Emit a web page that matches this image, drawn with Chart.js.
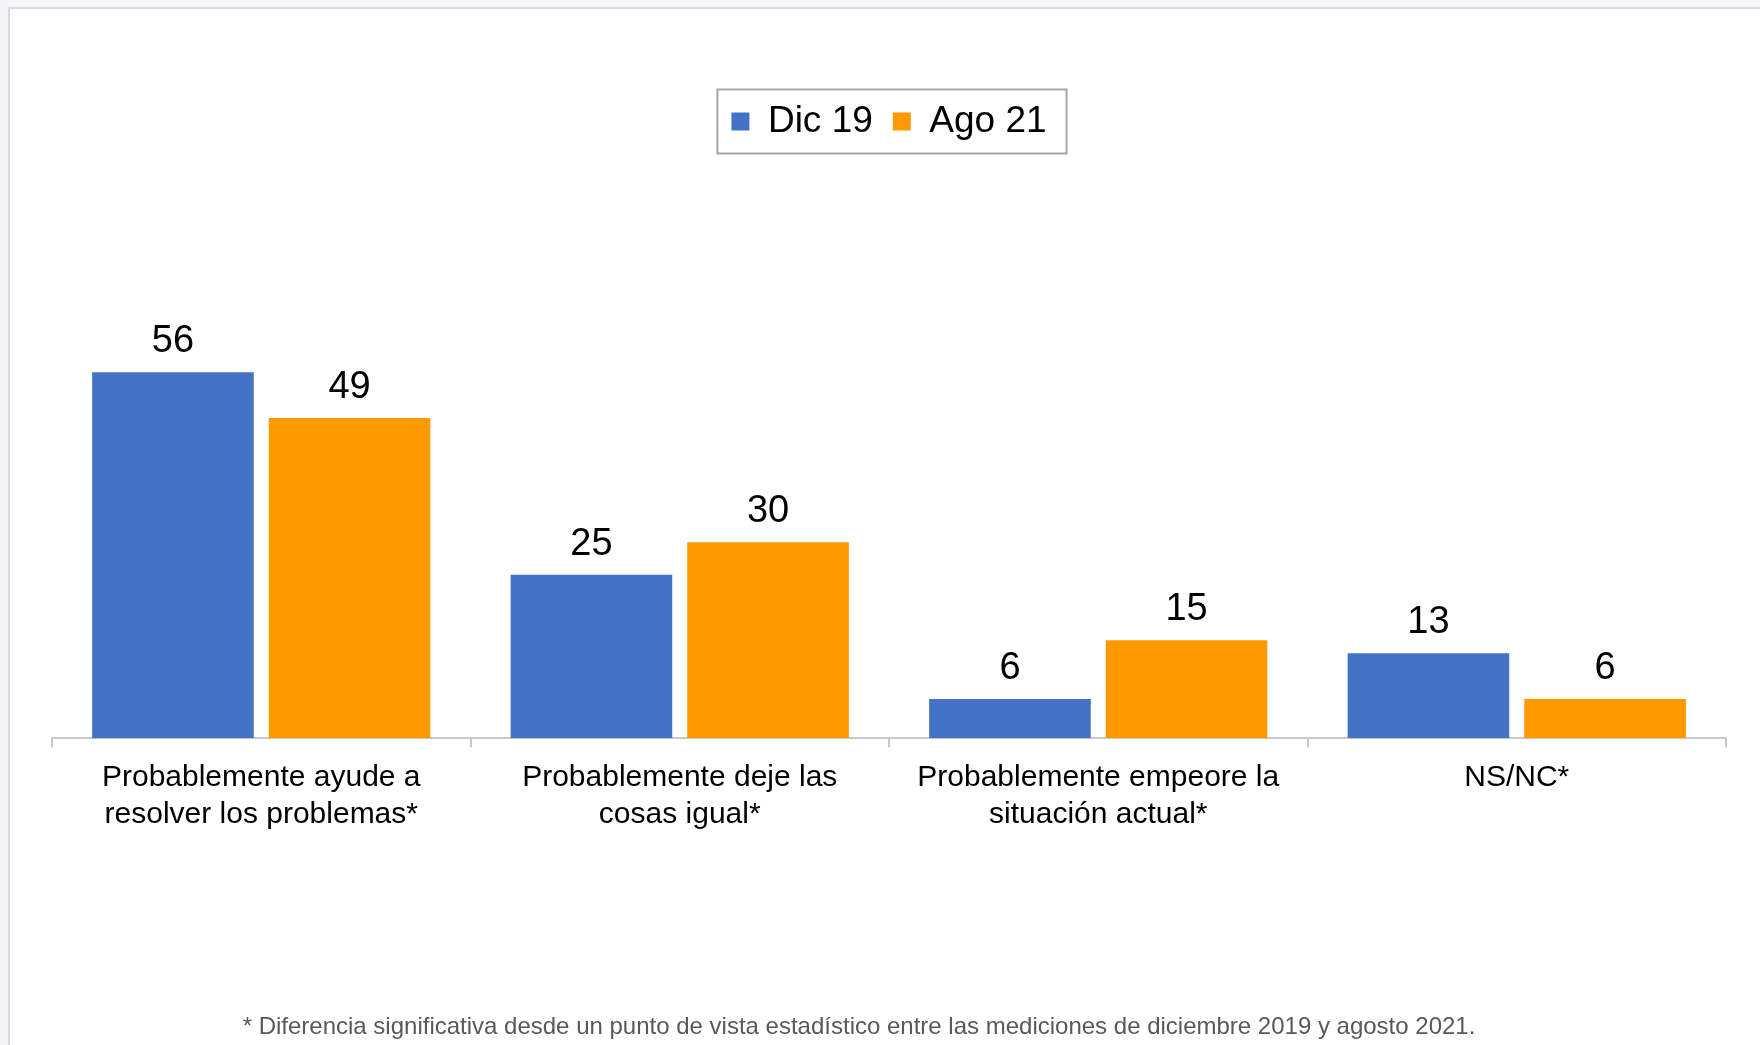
<!DOCTYPE html>
<html>
<head>
<meta charset="utf-8">
<script src="https://cdn.jsdelivr.net/npm/chart.js@4"></script>
<style>
  html, body { margin: 0; padding: 0; }
  body { width: 1760px; height: 1045px; background: #f4f5f9; position: relative; overflow: hidden; }
  .panel { position: absolute; left: 8px; top: 7px; width: 1780px; height: 1070px; background: #fff; border: 2px solid #dadada; }
  #grafico { position: absolute; left: 0; top: 0; }
</style>
</head>
<body>
<div class="panel"></div>
<canvas id="grafico" width="1760" height="1045"></canvas>
<script>
// datos
const categorias = [
  ['Probablemente ayude a', 'resolver los problemas*'],
  ['Probablemente deje las', 'cosas igual*'],
  ['Probablemente empeore la', 'situación actual*'],
  ['NS/NC*']
];
const dic19 = [56, 25, 6, 13];
const ago21 = [49, 30, 15, 6];
const nota = '* Diferencia significativa desde un punto de vista estadístico entre las mediciones de diciembre 2019 y agosto 2021.';

const FUENTE = '"Liberation Sans", Arial, sans-serif';

// valores encima de las barras
const etiquetasPlugin = {
  id: 'etiquetas',
  afterDatasetsDraw(chart) {
    const ctx = chart.ctx;
    ctx.save();
    ctx.font = '38px ' + FUENTE;
    ctx.fillStyle = '#000';
    ctx.textAlign = 'center';
    ctx.textBaseline = 'alphabetic';
    chart.data.datasets.forEach((ds, i) => {
      chart.getDatasetMeta(i).data.forEach((bar, j) => {
        ctx.fillText(ds.data[j], bar.x, bar.y - 20);
      });
    });
    ctx.restore();
  }
};

// recuadro de la leyenda + nota al pie
const extrasPlugin = {
  id: 'extras',
  afterDraw(chart) {
    const ctx = chart.ctx;
    const cajas = chart.legend.legendHitBoxes;
    ctx.save();
    if (cajas && cajas.length) {
      const primero = cajas[0], ultimo = cajas[cajas.length - 1];
      const cy = primero.top + primero.height / 2;
      ctx.strokeStyle = '#a6a6a6';
      ctx.lineWidth = 2;
      const x0 = primero.left - 14, x1 = ultimo.left + ultimo.width + 20;
      ctx.strokeRect(x0, cy - 32, x1 - x0, 64);
    }
    // nota
    ctx.font = '24px ' + FUENTE;
    ctx.fillStyle = '#595959';
    ctx.textAlign = 'center';
    ctx.textBaseline = 'middle';
    ctx.fillText(nota, 859, 1027);
    ctx.restore();
  }
};

new Chart(document.getElementById('grafico'), {
  type: 'bar',
  data: {
    labels: categorias,
    datasets: [
      { label: 'Dic 19', data: dic19, backgroundColor: '#4472c4' },
      { label: 'Ago 21', data: ago21, backgroundColor: '#ff9900' }
    ]
  },
  options: {
    responsive: false,
    animation: false,
    categoryPercentage: 0.844,
    barPercentage: 0.915,
    layout: { padding: { left: 52, right: 34, top: 83, bottom: 200 } },
    plugins: {
      legend: {
        position: 'top',
        labels: {
          boxWidth: 18,
          boxHeight: 18,
          padding: 20,
          color: '#000',
          font: { family: FUENTE, size: 37 }
        }
      },
      title: { display: false },
      tooltip: { enabled: false }
    },
    scales: {
      y: { display: false, min: 0, max: 90 },
      x: {
        offset: true,
        border: { color: '#c8c8c8', width: 2 },
        grid: { offset: true, drawOnChartArea: false, drawTicks: true, tickLength: 9, color: '#c8c8c8', lineWidth: 2 },
        ticks: {
          color: '#000',
          padding: 12,
          maxRotation: 0,
          autoSkip: false,
          font: { family: FUENTE, size: 30, lineHeight: 1.23 }
        }
      }
    }
  },
  plugins: [etiquetasPlugin, extrasPlugin]
});
</script>
</body>
</html>
